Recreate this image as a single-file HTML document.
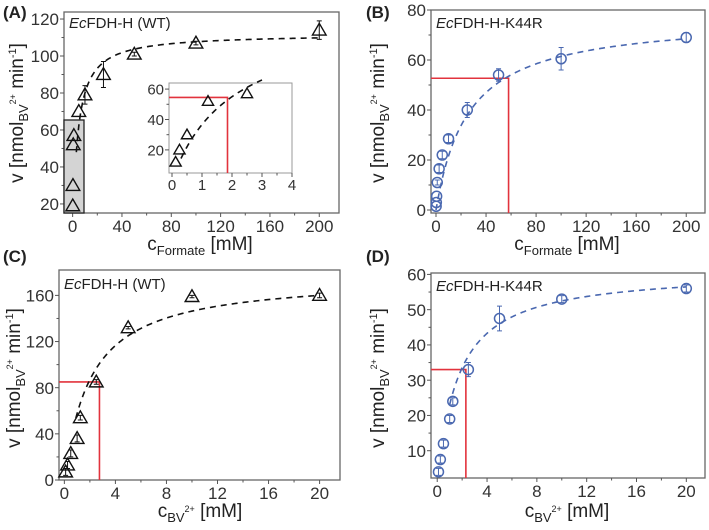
<!DOCTYPE html>
<html><head><meta charset="utf-8"><style>
body{margin:0;background:#fff;}
svg{display:block;font-family:"Liberation Sans",sans-serif;}
</style></head><body>
<svg id="fig" width="709" height="530" viewBox="0 0 709 530"></svg>
<script>
// Panel A data (formate, WT)
const aX = [0.1, 0.25, 0.5, 1, 5, 10, 25, 50, 100, 200];
const aY = [19, 30, 52, 57, 70, 79, 90, 101, 107, 114];
const aErr = [0, 0, 0, 0, 0, 5, 7, 1, 1, 5];
const aXTicks = [0, 40, 80, 120, 160, 200];
const aYTicks = [20, 40, 60, 80, 100, 120];
// Inset A data
const insX = [0.12, 0.25, 0.5, 1.2, 2.5];
const insY = [12, 20, 30, 52, 57];
const insXTicks = [0, 1, 2, 3, 4];
const insYTicks = [20, 40, 60];
// Panel B data (formate, K44R)
const bX = [0.1, 0.25, 0.5, 1, 2.5, 5, 10, 25, 50, 100, 200];
const bY = [1.5, 3, 5.5, 11, 16.5, 22, 28.5, 40, 54, 60.5, 69];
const bErr = [0, 0, 0, 1, 1.5, 1.5, 1.5, 3, 2.5, 4.5, 2];
const bXTicks = [0, 40, 80, 120, 160, 200];
const bYTicks = [0, 20, 40, 60, 80];
// Panel C data (BV, WT)
const cX = [0.1, 0.25, 0.5, 1, 1.25, 2.5, 5, 10, 20];
const cY = [7, 13, 23, 36, 54, 85, 132, 159, 160];
const cErr = [3, 3, 3, 3, 2, 2, 1, 1, 2];
const cXTicks = [0, 4, 8, 12, 16, 20];
const cYTicks = [0, 40, 80, 120, 160];
// Panel D data (BV, K44R)
const dX = [0.1, 0.25, 0.5, 1, 1.25, 2.5, 5, 10, 20];
const dY = [4, 7.5, 12, 19, 24, 33, 47.5, 53, 56];
const dErr = [1, 1, 1, 1, 1, 2, 3.5, 1, 1];
const dXTicks = [0, 4, 8, 12, 16, 20];
const dYTicks = [10, 20, 30, 40, 50, 60];

const NS = "http://www.w3.org/2000/svg";
const svg = document.getElementById("fig");
function el(tag, attrs, parent) {
  const e = document.createElementNS(NS, tag);
  for (const k in attrs) e.setAttribute(k, attrs[k]);
  (parent || svg).appendChild(e);
  return e;
}
const BLUE = "#4a68b0", RED = "#e2333d";

function panel(o) {
  const g = el("g", {});
  
  
  const sx = v => o.L + (v - o.x0) / (o.x1 - o.x0) * (o.R - o.L);
  const sy = v => o.B - (v - o.y0) / (o.y1 - o.y0) * (o.B - o.T);
  o.sx = sx; o.sy = sy;
  const fr = el("rect", {x: o.L, y: o.T, width: o.R - o.L, height: o.B - o.T, fill: "none", stroke: o.frame || "#666", "stroke-width": o.fw || 1.3}, g);
  
  
  const fs = o.fs || 17;
  o.xt.forEach((t, i) => {
    const x = sx(t);
    el("line", {x1: x, x2: x, y1: o.B, y2: o.B + 4, stroke: "#555", "stroke-width": 1}, g);
    if (i < o.xt.length - 1) { const xm = sx((t + o.xt[i + 1]) / 2); el("line", {x1: xm, x2: xm, y1: o.B, y2: o.B + 2.5, stroke: "#555"}, g); }
    const tx = el("text", {x: x, y: o.B + fs + 2, "text-anchor": "middle", "font-size": fs, fill: "#333"}, g);
    tx.textContent = t;
    
    
  });
  o.yt.forEach((t, i) => {
    const y = sy(t);
    el("line", {x1: o.L - 4, x2: o.L, y1: y, y2: y, stroke: "#555"}, g);
    if (i < o.yt.length - 1) { const ym = sy((t + o.yt[i + 1]) / 2); el("line", {x1: o.L - 2.5, x2: o.L, y1: ym, y2: ym, stroke: "#555"}, g); }
    const ty = el("text", {x: o.L - 5, y: y + fs * 0.36, "text-anchor": "end", "font-size": fs, fill: "#333"}, g);
    ty.textContent = t;
    
    
  });
  return g;
}

function curve(g, o, V, K, xa, xb, color) {
  let d = "";
  for (let i = 0; i <= 200; i++) {
    const x = xa + (xb - xa) * i / 200;
    const y = V * x / (K + x);
    d += (i ? "L" : "M") + o.sx(x).toFixed(2) + "," + o.sy(y).toFixed(2);
  }
  const p = el("path", {d: d, fill: "none", stroke: color, "stroke-width": 1.6, "stroke-dasharray": "6,5"}, g);
  
  
}

function redLines(g, o, xv, yv) {
  const p = el("path", {d: `M${o.L},${o.sy(yv)}H${o.sx(xv)}V${o.B}`, fill: "none", stroke: RED, "stroke-width": 1.6}, g);
  
  
}

function points(g, o, xs, ys, es, type, size) {
  xs.forEach((xv, i) => {
    const x = o.sx(xv), y = o.sy(ys[i]);
    const color = type === "tri" ? "#111" : BLUE;
    if (es && es[i]) {
      const e = el("path", {d: `M${x},${o.sy(ys[i] + es[i])}V${o.sy(ys[i] - es[i])}M${x - 2.5},${o.sy(ys[i] + es[i])}h5M${x - 2.5},${o.sy(ys[i] - es[i])}h5`, stroke: color, "stroke-width": 1, fill: "none"}, g);
      
      
    }
    let m;
    if (type === "tri") {
      const s = size;
      m = el("path", {d: `M${x},${y - s * 0.62}L${x + s * 0.62},${y + s * 0.45}L${x - s * 0.62},${y + s * 0.45}Z`, fill: "none", stroke: "#111", "stroke-width": 1.4}, g);
    } else {
      m = el("circle", {cx: x, cy: y, r: size, fill: "none", stroke: BLUE, "stroke-width": 1.5}, g);
    }
    
    
  });
}

function texts(items) {
  items.forEach(it => {
    const t = el("text", Object.assign({"font-size": 18, fill: "#222"}, it.a));
    t.innerHTML = it.h;
    
    
  });
}

const A = {name: "panel-a", L: 64, R: 339, T: 12, B: 213, x0: -7, x1: 216, y0: 15.1, y1: 123.8, xt: aXTicks, yt: aYTicks};
const gA = panel(A);
const gb = el("rect", {x: 64, y: 120, width: 20, height: 93, fill: "#d4d4d4", stroke: "#222", "stroke-width": 1.3}, gA);


curve(gA, A, 112, 4, 3, 200, "#111");
points(gA, A, aX, aY, aErr, "tri", 11);
const I = {name: "inset-a", L: 169, R: 292, T: 83, B: 173, x0: -0.1, x1: 4, y0: 4.8, y1: 64, xt: insXTicks, yt: insYTicks, fs: 15, frame: "#999", fw: 1};
const gI = panel(I);
redLines(gI, I, 1.85, 54.5);
curve(gI, I, 110, 2, 0.3, 3, "#111");
points(gI, I, insX, insY, null, "tri", 9);

const Bp = {name: "panel-b", L: 431, R: 705, T: 10, B: 213, x0: -4, x1: 215, y0: -1.2, y1: 80, xt: bXTicks, yt: bYTicks};
const gB = panel(Bp);
redLines(gB, Bp, 58, 52.7);
curve(gB, Bp, 77.3, 25.8, 0, 200, BLUE);
points(gB, Bp, bX, bY, bErr, "circ", 5);

const C = {name: "panel-c", L: 59, R: 340, T: 270, B: 480, x0: -0.42, x1: 21.6, y0: 0, y1: 182, xt: cXTicks, yt: cYTicks};
const gC = panel(C);
redLines(gC, C, 2.75, 85);
curve(gC, C, 176.5, 2.06, 0.9, 20, "#111");
points(gC, C, cX, cY, cErr, "tri", 11);

const D = {name: "panel-d", L: 431, R: 705, T: 273, B: 478, x0: -0.5, x1: 21.5, y0: 2.26, y1: 60.4, xt: dXTicks, yt: dYTicks};
const gD = panel(D);
redLines(gD, D, 2.3, 33);
curve(gD, D, 61.1, 1.645, 1, 20, BLUE);
points(gD, D, dX, dY, dErr, "circ", 5);

const yTitle = 'v [nmol<tspan dy="5" font-size="13">BV</tspan><tspan dy="-12" font-size="9">2+</tspan><tspan dy="7"> min</tspan><tspan dy="-7" font-size="11">-1</tspan><tspan dy="7">]</tspan>';
const xForm = 'c<tspan dy="5" font-size="13">Formate</tspan><tspan dy="-5"> [mM]</tspan>';
const xBV = 'c<tspan dy="5" font-size="13">BV</tspan><tspan dy="-10" font-size="9">2+</tspan><tspan dy="5"> [mM]</tspan>';
texts([
  {n: "panel-label-a", h: "(A)", a: {x: 3, y: 18, "font-weight": "bold", "font-size": 17}},
  {n: "panel-label-b", h: "(B)", a: {x: 366, y: 18, "font-weight": "bold", "font-size": 17}},
  {n: "panel-label-c", h: "(C)", a: {x: 3, y: 262, "font-weight": "bold", "font-size": 17}},
  {n: "panel-label-d", h: "(D)", a: {x: 366, y: 262, "font-weight": "bold", "font-size": 17}},
  {n: "title-a", h: '<tspan font-style="italic">Ec</tspan>FDH-H (WT)', a: {x: 69, y: 28, "font-size": 15}},
  {n: "title-b", h: '<tspan font-style="italic">Ec</tspan>FDH-H-K44R', a: {x: 436, y: 28, "font-size": 15}},
  {n: "title-c", h: '<tspan font-style="italic">Ec</tspan>FDH-H (WT)', a: {x: 64, y: 289, "font-size": 15}},
  {n: "title-d", h: '<tspan font-style="italic">Ec</tspan>FDH-H-K44R', a: {x: 436, y: 291, "font-size": 15}},
  {n: "y-axis-title-a", h: yTitle, a: {transform: "translate(23,113) rotate(-90)", "text-anchor": "middle", "font-size": 19}},
  {n: "y-axis-title-b", h: yTitle, a: {transform: "translate(384,113) rotate(-90)", "text-anchor": "middle", "font-size": 19}},
  {n: "y-axis-title-c", h: yTitle, a: {transform: "translate(20,378) rotate(-90)", "text-anchor": "middle", "font-size": 19}},
  {n: "y-axis-title-d", h: yTitle, a: {transform: "translate(384,378) rotate(-90)", "text-anchor": "middle", "font-size": 19}},
  {n: "x-axis-title-a", h: xForm, a: {x: 200, y: 250, "text-anchor": "middle", "font-size": 19}},
  {n: "x-axis-title-b", h: xForm, a: {x: 567, y: 250, "text-anchor": "middle", "font-size": 19}},
  {n: "x-axis-title-c", h: xBV, a: {x: 200, y: 517, "text-anchor": "middle", "font-size": 19}},
  {n: "x-axis-title-d", h: xBV, a: {x: 567, y: 517, "text-anchor": "middle", "font-size": 19}}
]);
</script>
</body></html>
